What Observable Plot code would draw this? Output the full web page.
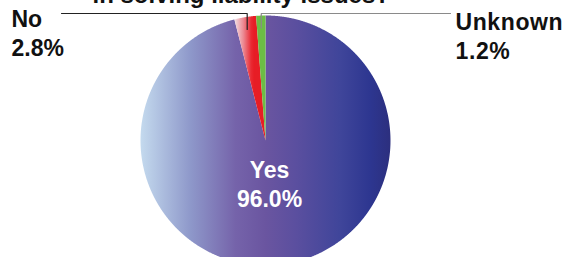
<!DOCTYPE html>
<html><head><meta charset="utf-8">
<script src="https://cdn.jsdelivr.net/npm/d3@7"></script>
<script src="https://cdn.jsdelivr.net/npm/@observablehq/plot@0.6"></script>
<style>body{margin:0;background:#fff;} svg{display:block;}</style>
</head><body><div id="chart"></div>
<script>
const categories = ["Yes", "No", "Unknown"];
const values = [96.0, 2.8, 1.2];
const valueLabels = ["96.0%", "2.8%", "1.2%"];
const titleText = "in solving liability issues?";

const W = 579, H = 257, cx = 265, cy = 140, R = 125;
const total = d3.sum(values);
let acc = 0;
const slices = categories.map((c, i) => {
  const a0 = acc / total * 2 * Math.PI; acc += values[i];
  const a1 = acc / total * 2 * Math.PI;
  return {c, i, a0, a1, mid: (a0 + a1) / 2, label: `${c}\n${valueLabels[i]}`};
});
const pt = (a, r) => [cx + r * Math.sin(a), cy - r * Math.cos(a)];
function slicePoly(s) {
  const out = [{x: cx, y: cy}];
  const n = Math.max(2, Math.ceil((s.a1 - s.a0) / 0.004));
  for (let k = 0; k <= n; k++) {
    const [x, y] = pt(s.a0 + (s.a1 - s.a0) * k / n, R);
    out.push({x, y});
  }
  return out;
}
const fills = {Yes: "url(#gYes)", No: "url(#gNo)", Unknown: "#6cbd45"};

// leader lines (layout)
const leaderY = 13;
const leaderEnd = {No: 61, Unknown: 450};
const leaderColor = {No: "#222", Unknown: "#8a8a8a"};
function leader(s) {
  const [x, y] = pt(s.mid, 0.9 * R);
  return [{x, y}, {x, y: leaderY}, {x: leaderEnd[s.c], y: leaderY}];
}
const labelPos = {
  Yes: {x: 269, y: 206, anchor: "middle", fill: "white"},
  No: {x: 11, y: 55, anchor: "start", fill: "#111"},
  Unknown: {x: 455, y: 58, anchor: "start", fill: "#111"}
};

const marks = [];
slices.forEach(s => marks.push(Plot.line(slicePoly(s), {x: "x", y: "y", fill: fills[s.c], stroke: "none", curve: "linear-closed"})));
slices.filter(s => s.c !== "Yes").forEach(s => marks.push(Plot.line(leader(s), {x: "x", y: "y", stroke: leaderColor[s.c], strokeWidth: 1.2})));
slices.forEach(s => {
  const p = labelPos[s.c];
  marks.push(Plot.text([s], {x: () => p.x, y: () => p.y, text: "label", textAnchor: p.anchor, lineAnchor: "bottom", fontSize: 23, fontWeight: "bold", fill: p.fill, lineHeight: 1.24}));
});
marks.push(Plot.text([titleText], {x: () => 92, y: () => 2, text: d => d, textAnchor: "start", lineAnchor: "bottom", fontSize: 24, fontWeight: "bold", fill: "#111"}));

const chart = Plot.plot({
  width: W, height: H, margin: 0,
  x: {domain: [0, W], range: [0, W], axis: null},
  y: {domain: [0, H], range: [0, H], axis: null},
  style: {fontFamily: "'Liberation Sans', Arial, sans-serif", background: "white"},
  marks
});
const svg = d3.select(chart);
const defs = svg.insert("defs", ":first-child");
const gy = defs.append("linearGradient").attr("id", "gYes").attr("gradientUnits", "userSpaceOnUse")
  .attr("x1", cx - R).attr("x2", cx + R).attr("y1", 0).attr("y2", 0);
[[0, "#c4daee"], [0.2, "#8e98ca"], [0.38, "#7563aa"], [0.5, "#6a55a0"], [0.62, "#5b4f9f"], [0.8, "#3f459a"], [0.92, "#2d3690"], [1, "#2c2f7e"]]
  .forEach(([o, c]) => gy.append("stop").attr("offset", o).attr("stop-color", c));
const [nx0] = pt(slices[1].a0 + 0.0001, R);
const [nx1] = pt(slices[1].a1, R);
const gn = defs.append("linearGradient").attr("id", "gNo").attr("gradientUnits", "userSpaceOnUse")
  .attr("x1", Math.min(nx0, nx1)).attr("x2", Math.max(nx0, nx1) - 2).attr("y1", 0).attr("y2", 0);
[[0, "#f2e0e6"], [0.45, "#ec8a93"], [0.85, "#e92a33"], [1, "#e71d25"]]
  .forEach(([o, c]) => gn.append("stop").attr("offset", o).attr("stop-color", c));
// slightly wider "Unknown" label as in the reference
svg.selectAll("text").filter(function() { return this.textContent.startsWith("Unknown"); }).attr("letter-spacing", "0.6");
document.getElementById("chart").appendChild(chart);
</script>
</body></html>
